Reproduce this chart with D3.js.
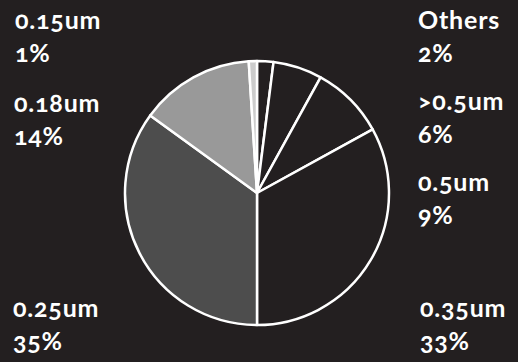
<!DOCTYPE html>
<html><head><meta charset="utf-8">
<script src="https://cdn.jsdelivr.net/npm/d3@7"></script>
<style>
html,body{margin:0;padding:0;background:#231f20;}
svg{display:block;}
text{font-family:Lato,"Open Sans",sans-serif;font-weight:700;fill:#ffffff;font-variant-numeric:oldstyle-nums;letter-spacing:0.8px;}
</style></head>
<body>
<script>
const categories = ["Others", ">0.5um", "0.5um", "0.35um", "0.25um", "0.18um", "0.15um"];
const values = [2, 6, 9, 33, 35, 14, 1];
const percentLabels = ["2%", "6%", "9%", "33%", "35%", "14%", "1%"];
const sliceColors = ["#231f20", "#231f20", "#231f20", "#231f20", "#4d4d4d", "#999999", "#cccccc"];

const W = 518, H = 362;
const svg = d3.select("body").append("svg").attr("width", W).attr("height", H);
svg.append("rect").attr("width", W).attr("height", H).attr("fill", "#231f20");

const cx = 257, cy = 193, R = 132;
const data = categories.map((c, i) => ({ name: c, value: values[i], label: percentLabels[i], color: sliceColors[i] }));
const pie = d3.pie().value(d => d.value).sort(null).startAngle(0).endAngle(2 * Math.PI);
const arc = d3.arc().innerRadius(0).outerRadius(R);

const g = svg.append("g").attr("transform", `translate(${cx},${cy})`);
g.selectAll("path").data(pie(data)).join("path")
  .attr("d", arc)
  .attr("fill", d => d.data.color)
  .attr("stroke", "#ffffff")
  .attr("stroke-width", 2.5)
  .attr("stroke-linejoin", "round");

// label anchor positions (x, baseline of first line)
const labelPos = {
  "Others": [418, 29],
  ">0.5um": [418, 110],
  "0.5um": [418, 191],
  "0.35um": [420, 317],
  "0.25um": [13, 317],
  "0.18um": [14, 112],
  "0.15um": [15, 29]
};
const lines = svg.append("g");
data.forEach(d => {
  const [x, y] = labelPos[d.name];
  const t = lines.append("text").attr("x", x).attr("y", y).attr("font-size", 25);
  t.append("tspan").attr("x", x).text(d.name);
  t.append("tspan").attr("x", x).attr("dy", 33).text(d.label);
});
</script>
</body></html>
